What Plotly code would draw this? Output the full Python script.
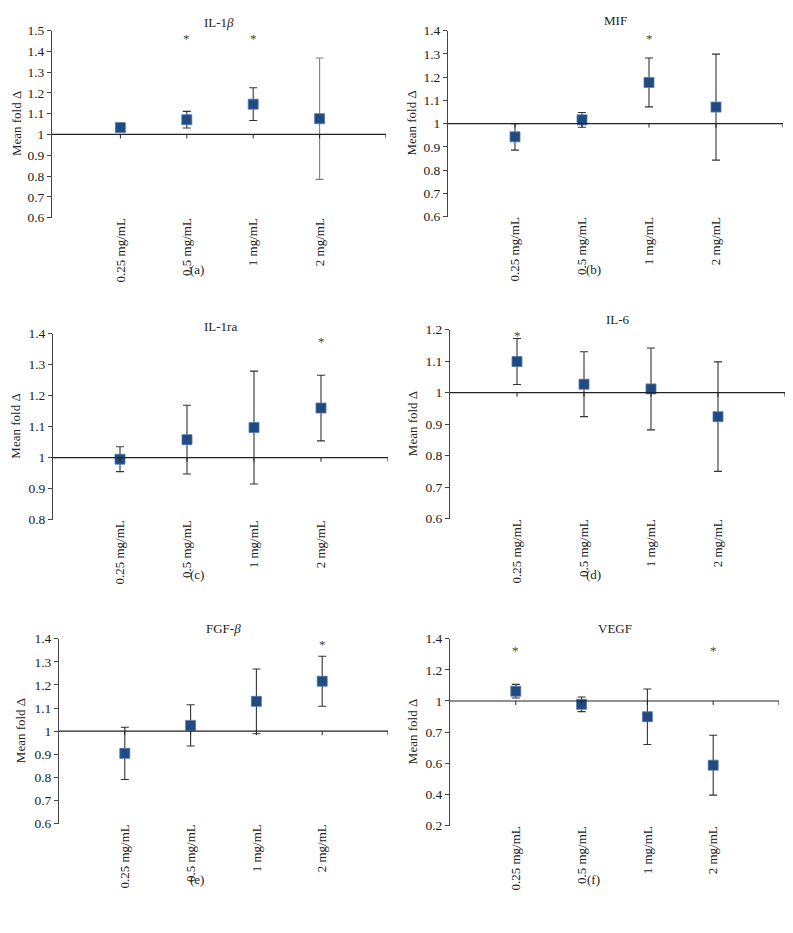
import plotly.graph_objects as go

W, H = 793, 933

categories = ["0.25 mg/mL", "0.5 mg/mL", "1 mg/mL", "2 mg/mL"]
cat_pos = [1, 2, 3, 4]

titles = ["IL-1<i>β</i>", "MIF", "IL-1ra", "IL-6", "FGF-<i>β</i>", "VEGF"]
letters = ["(a)", "(b)", "(c)", "(d)", "(e)", "(f)"]

il1b_mean = [1.033, 1.071, 1.146, 1.076]
il1b_err = [0.008, 0.040, 0.079, 0.292]
mif_mean = [0.943, 1.016, 1.177, 1.071]
mif_err = [0.057, 0.032, 0.105, 0.228]
il1ra_mean = [0.995, 1.058, 1.097, 1.160]
il1ra_err = [0.040, 0.111, 0.182, 0.106]
il6_mean = [1.099, 1.027, 1.012, 0.924]
il6_err = [0.073, 0.103, 0.130, 0.174]
fgf_mean = [0.904, 1.025, 1.129, 1.216]
fgf_err = [0.113, 0.089, 0.140, 0.108]
vegf_mean = [1.063, 0.979, 0.899, 0.588]
vegf_err = [0.044, 0.047, 0.178, 0.192]

means = [il1b_mean, mif_mean, il1ra_mean, il6_mean, fgf_mean, vegf_mean]
errs = [il1b_err, mif_err, il1ra_err, il6_err, fgf_err, vegf_err]

# error bar colours (the 2 mg/mL bar of IL-1β is lighter grey)
err_colors = [
    ["#333333", "#333333", "#333333", "#808080"],
    ["#333333"] * 4, ["#333333"] * 4, ["#333333"] * 4,
    ["#333333"] * 4, ["#333333"] * 4,
]

# significance stars: category indices and height
star_idx = [[1, 2], [2], [3], [0], [3], [0, 3]]
star_y = [1.472, 1.375, 1.381, 1.187, 1.382, 1.337]

ytick_vals = [
    [0.6, 0.7, 0.8, 0.9, 1.0, 1.1, 1.2, 1.3, 1.4, 1.5],
    [0.6, 0.7, 0.8, 0.9, 1.0, 1.1, 1.2, 1.3, 1.4],
    [0.8, 0.9, 1.0, 1.1, 1.2, 1.3, 1.4],
    [0.6, 0.7, 0.8, 0.9, 1.0, 1.1, 1.2],
    [0.6, 0.7, 0.8, 0.9, 1.0, 1.1, 1.2, 1.3, 1.4],
    [0.2, 0.4, 0.6, 0.8, 1.0, 1.2, 1.4],
]
ytick_text = [
    ["0.6", "0.7", "0.8", "0.9", "1", "1.1", "1.2", "1.3", "1.4", "1.5"],
    ["0.6", "0.7", "0.8", "0.9", "1", "1.1", "1.2", "1.3", "1.4"],
    ["0.8", "0.9", "1", "1.1", "1.2", "1.3", "1.4"],
    ["0.6", "0.7", "0.8", "0.9", "1", "1.1", "1.2"],
    ["0.6", "0.7", "0.8", "0.9", "1", "1.1", "1.2", "1.3", "1.4"],
    ["0.2", "0.4", "0.6", "0.7", "1", "1.2", "1.4"],
]

# layout geometry in pixels: (left, right, top, bottom) of each plot area
boxes = [
    (52, 386, 24, 214),
    (448, 783, 24, 213),
    (53, 388, 332, 521),
    (450, 785, 328, 520),
    (59, 388, 642, 830),
    (450, 779, 642, 832),
]
xranges = [[-0.03, 5], [0, 5], [0, 5], [0, 5], [0, 5], [0, 5]]
title_y = [16, 14, 325, 318, 632, 632]
ylab_x = [16, 412, 16, 412, 20, 412]
letter_y = [267, 267, 577, 577, 887, 887]

FONT = "Liberation Serif, Times New Roman, serif"
MARK = "#1f4a82"

fig = go.Figure()
annotations = []
shapes = []


def px(x):
    return x / W


def py(y):
    return 1 - y / H


for i in range(6):
    n = i + 1
    xa = "x" if n == 1 else f"x{n}"
    ya = "y" if n == 1 else f"y{n}"
    l, r, t, b = boxes[i]
    for j in range(4):
        fig.add_trace(go.Scatter(
            x=[cat_pos[j]], y=[means[i][j]], mode="markers",
            marker=dict(symbol="square", size=10, color=MARK,
                        line=dict(color="#5579a8", width=0.8)),
            error_y=dict(type="data", array=[errs[i][j]], visible=True,
                         color=err_colors[i][j], thickness=1.1, width=4),
            xaxis=xa, yaxis=ya, showlegend=False, hoverinfo="skip",
        ))
    xkey = "xaxis" if n == 1 else f"xaxis{n}"
    ykey = "yaxis" if n == 1 else f"yaxis{n}"
    fig.update_layout(**{
        xkey: dict(domain=[px(l), px(r)], anchor=ya, range=xranges[i],
                   tickvals=cat_pos, ticktext=categories, tickangle=-90,
                   showline=False, showgrid=False, zeroline=False, ticks="",
                   ticklabelstandoff=-3,
                   tickfont=dict(family=FONT, size=13, color="#222")),
        ykey: dict(domain=[py(b), py(t)], anchor=xa,
                   range=[ytick_vals[i][0], ytick_vals[i][-1]],
                   tickvals=ytick_vals[i], ticktext=ytick_text[i],
                   showline=True, linecolor="#444", linewidth=1,
                   ticks="outside", ticklen=4, tickcolor="#444",
                   showgrid=False, zeroline=False,
                   tickfont=dict(family=FONT, size=13.5, color="#222")),
    })
    # reference line at 1 with tick marks at categories and at the end
    shapes.append(dict(type="line", xref=xa, yref=ya, x0=xranges[i][0],
                       x1=xranges[i][1], y0=1, y1=1,
                       line=dict(color="#222", width=1.2)))
    for c in cat_pos + [5]:
        shapes.append(dict(type="line", xref=xa, yref=ya, ysizemode="pixel",
                           yanchor=1, x0=c, x1=c, y0=0, y1=-4,
                           line=dict(color="#222", width=1)))
    # stars
    for k in star_idx[i]:
        annotations.append(dict(x=cat_pos[k], y=star_y[i], xref=xa, yref=ya,
                                text="*", showarrow=False, yanchor="middle",
                                xanchor="center", yshift=-2,
                                font=dict(family=FONT, size=13, color="#444")))
    # panel title
    annotations.append(dict(x=px((l + r) / 2), y=py(title_y[i]), xref="paper",
                            yref="paper", text=titles[i], showarrow=False,
                            xanchor="center", yanchor="middle",
                            font=dict(family=FONT, size=13, color="#222")))
    # y-axis title
    annotations.append(dict(x=px(ylab_x[i]), y=py((t + b) / 2), xref="paper",
                            yref="paper", text="Mean fold Δ", textangle=-90,
                            showarrow=False, xanchor="center", yanchor="middle",
                            font=dict(family=FONT, size=13, color="#222")))
    # panel letter
    annotations.append(dict(x=px(197 if i % 2 == 0 else 593), y=py(letter_y[i]),
                            xref="paper", yref="paper", text=letters[i],
                            showarrow=False, xanchor="center", yanchor="middle",
                            font=dict(family=FONT, size=13, color="#222")))

fig.update_layout(width=W, height=H, margin=dict(l=0, r=0, t=0, b=0),
                  paper_bgcolor="white", plot_bgcolor="white",
                  annotations=annotations, shapes=shapes, showlegend=False)

fig.write_html(
    "out.html",
    config={"displayModeBar": False, "staticPlot": True},
    post_script=(
        "document.documentElement.style.margin='0';"
        "document.body.style.margin='0';"
        "document.body.style.overflow='hidden';"
        "var d=document.getElementById('{plot_id}');"
        "d.style.position='fixed';d.style.top='0px';d.style.left='0px';"
    ),
)
